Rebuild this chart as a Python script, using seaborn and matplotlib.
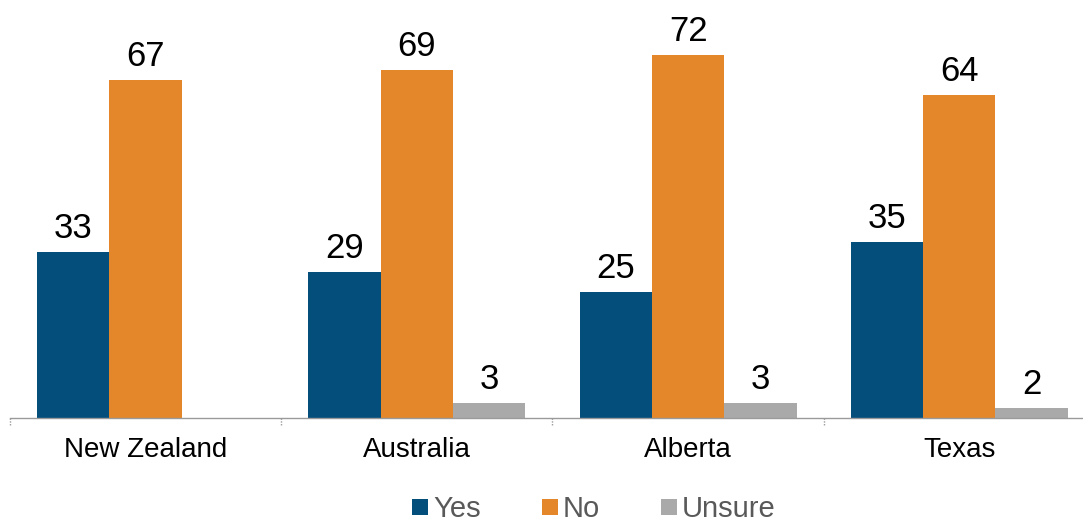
import numpy as np
import pandas as pd
import matplotlib
matplotlib.use("Agg")
import matplotlib.pyplot as plt
import seaborn as sns

regions = ["New Zealand", "Australia", "Alberta", "Texas"]
answers = ["Yes", "No", "Unsure"]
yes_vals = [33, 29, 25, 35]
no_vals = [67, 69, 72, 64]
unsure_vals = [np.nan, 3, 3, 2]
colors = ["#034E7B", "#E3872A", "#A9A9A9"]

df = pd.DataFrame({
    "region": regions * 3,
    "answer": [a for a in answers for _ in regions],
    "value": yes_vals + no_vals + unsure_vals,
})

sns.set_theme(style="white")
plt.rcParams["font.family"] = ["Liberation Sans", "DejaVu Sans"]

fig = plt.figure(figsize=(10.83, 5.24), dpi=100)
ax = fig.add_axes([10 / 1083, 106 / 524, 1073 / 1083, 418 / 524])

sns.barplot(data=df, x="region", y="value", hue="answer", hue_order=answers,
            order=regions, palette=colors, width=0.8, saturation=1,
            legend=False, ax=ax, linewidth=0)

for container in ax.containers:
    labels = ["" if np.isnan(v) else f"{v:.0f}" for v in container.datavalues]
    ax.bar_label(container, labels=labels, padding=5, fontsize=25, color="black")

ax.set_ylim(0, 82.9)
ax.set_xlim(-0.5, 3.456)
ax.set_xlabel("")
ax.set_ylabel("")
ax.set_yticks([])
ax.tick_params(axis="x", length=0, labelsize=20, pad=14, colors="black")
for s in ["top", "right", "left"]:
    ax.spines[s].set_visible(False)
ax.spines["bottom"].set_color("#9a9a9a")
ax.spines["bottom"].set_linestyle((0, (1, 1)))
ax.spines["bottom"].set_linewidth(1.0)

# dotted separators between region groups
for xb in [-0.5, 0.5, 1.5, 2.5]:
    ax.plot([xb, xb], [0, -1.3], color="#9a9a9a", lw=1.0, ls=(0, (1, 1)),
            clip_on=False)

handles = [plt.Line2D([], [], marker="s", ls="", markersize=11,
                      markerfacecolor=c, markeredgewidth=0) for c in colors]
leg = fig.legend(handles, answers, loc="center", bbox_to_anchor=(0.546, 0.029),
                 ncol=3, frameon=False, fontsize=21, handletextpad=0.0,
                 columnspacing=1.9, handlelength=0.9, borderpad=0)
for t in leg.get_texts():
    t.set_color("#595959")

fig.savefig("out.png", dpi=100)
